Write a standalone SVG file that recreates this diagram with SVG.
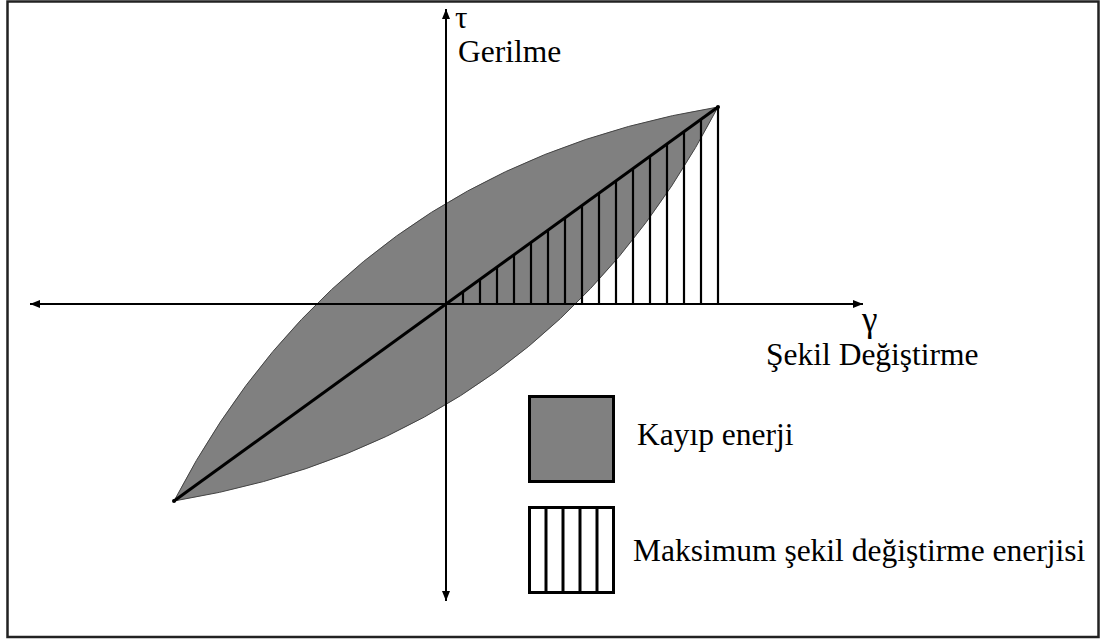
<svg xmlns="http://www.w3.org/2000/svg" width="1101" height="639" viewBox="0 0 1101 639">
<style>
.ax{stroke:#000;stroke-width:2;fill:none}
.h{stroke:#000;stroke-width:2.2;fill:none}
.box{stroke:#000;stroke-width:3}
.t{font-family:"Liberation Serif",serif;font-size:31.5px;fill:#000}
.g{font-family:"Liberation Serif",serif;font-size:35px;fill:#000}
.tau{font-family:"Liberation Serif",serif;font-size:31px;fill:#000}
</style>
<defs>
<marker id="arr" markerUnits="userSpaceOnUse" markerWidth="12" markerHeight="10" refX="10" refY="4" orient="auto">
<path d="M0,0 L10,4 L0,8 Z" fill="#000"/>
</marker>
</defs>
<rect x="7.5" y="1.5" width="1091" height="635.5" fill="#fff" stroke="#222" stroke-width="2.5"/>
<g id="loop">
<path d="M174,501 Q347,168 718,107 Q545,440 174,501 Z" fill="#808080" stroke="#444" stroke-width="1"/>
</g>
<g id="connectors">
<line class="ax" x1="446" y1="304" x2="446" y2="9" marker-end="url(#arr)"/>
<line class="ax" x1="446" y1="304" x2="446" y2="601" marker-end="url(#arr)"/>
<line class="ax" x1="446" y1="304" x2="863" y2="304" marker-end="url(#arr)"/>
<line class="ax" x1="446" y1="304" x2="30" y2="304" marker-end="url(#arr)"/>
</g>
<g id="hatch">
<line class="h" x1="463" y1="304" x2="463" y2="291.7"/>
<line class="h" x1="480" y1="304" x2="480" y2="279.4"/>
<line class="h" x1="497" y1="304" x2="497" y2="267.1"/>
<line class="h" x1="514" y1="304" x2="514" y2="254.7"/>
<line class="h" x1="531" y1="304" x2="531" y2="242.4"/>
<line class="h" x1="548" y1="304" x2="548" y2="230.1"/>
<line class="h" x1="565" y1="304" x2="565" y2="217.8"/>
<line class="h" x1="582" y1="304" x2="582" y2="205.5"/>
<line class="h" x1="599" y1="304" x2="599" y2="193.2"/>
<line class="h" x1="616" y1="304" x2="616" y2="180.9"/>
<line class="h" x1="633" y1="304" x2="633" y2="168.6"/>
<line class="h" x1="650" y1="304" x2="650" y2="156.2"/>
<line class="h" x1="667" y1="304" x2="667" y2="143.9"/>
<line class="h" x1="684" y1="304" x2="684" y2="131.6"/>
<line class="h" x1="701" y1="304" x2="701" y2="119.3"/>
<line class="h" x1="718" y1="304" x2="718" y2="107"/>
</g>
<g id="diagonal">
<line x1="174" y1="501" x2="718" y2="107" stroke="#000" stroke-width="3"/>
<circle cx="174" cy="501" r="2" fill="#000"/>
<circle cx="718" cy="107" r="2" fill="#000"/>
</g>
<g id="labels">
<text class="tau" x="455" y="28">τ</text>
<text class="t" x="458" y="62">Gerilme</text>
<text class="g" x="862" y="331">γ</text>
<text class="t" x="766" y="365">Şekil Değiştirme</text>
</g>
<g id="legend-loss">
<rect class="box" x="529.5" y="396.5" width="84" height="85" fill="#808080"/>
<text class="t" x="637" y="445">Kayıp enerji</text>
</g>
<g id="legend-max">
<rect class="box" x="529.5" y="507.5" width="84" height="85" fill="#fff"/>
<line class="box" x1="546" y1="507.5" x2="546" y2="592.5"/>
<line class="box" x1="563" y1="507.5" x2="563" y2="592.5"/>
<line class="box" x1="580" y1="507.5" x2="580" y2="592.5"/>
<line class="box" x1="597" y1="507.5" x2="597" y2="592.5"/>
<text class="t" x="633" y="561">Maksimum şekil değiştirme enerjisi</text>
</g>
</svg>
